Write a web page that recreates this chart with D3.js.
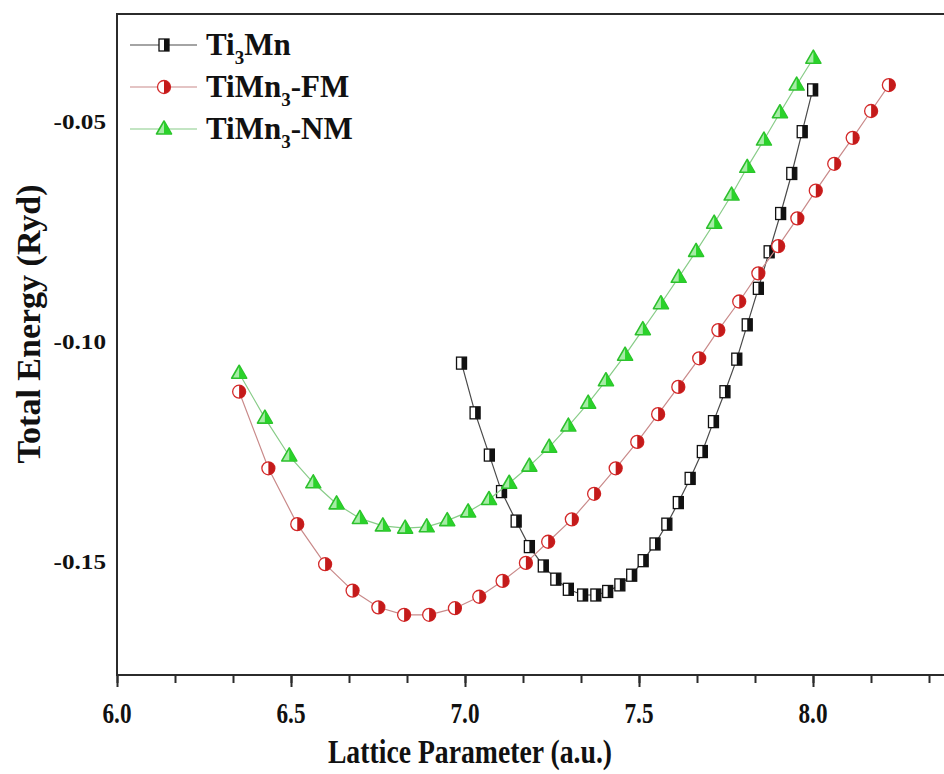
<!DOCTYPE html>
<html>
<head>
<meta charset="utf-8">
<script src="https://cdn.jsdelivr.net/npm/d3@7"></script>
<style>
  html, body { margin: 0; padding: 0; background: #fff; overflow: hidden; }
  svg { display: block; }
  text { font-family: "Liberation Serif", "Times New Roman", serif; font-weight: bold; fill: #111; }
</style>
</head>
<body>
<div id="chart"></div>
<script>
// ---- Data ----
const ti3mnA = [6.990, 7.029, 7.070, 7.105, 7.147, 7.185, 7.225, 7.261, 7.297, 7.338,
                7.376, 7.410, 7.445, 7.479, 7.512, 7.546, 7.580, 7.613, 7.647, 7.682,
                7.714, 7.747, 7.781, 7.811, 7.843, 7.874, 7.907, 7.939, 7.969, 7.999];
const ti3mnE = [-0.1048, -0.1161, -0.1257, -0.1340, -0.1407, -0.1465, -0.1509, -0.1539, -0.1562, -0.1575,
                -0.1575, -0.1567, -0.1552, -0.1530, -0.1497, -0.1459, -0.1414, -0.1365, -0.1310, -0.1249,
                -0.1181, -0.1113, -0.1039, -0.0961, -0.0878, -0.0795, -0.0708, -0.0617, -0.0522, -0.0427];

const fmA = [6.351, 6.435, 6.518, 6.598, 6.677, 6.751, 6.825, 6.897, 6.971, 7.041,
             7.108, 7.175, 7.239, 7.307, 7.371, 7.433, 7.495, 7.555, 7.613, 7.673,
             7.728, 7.788, 7.843, 7.900, 7.955, 8.008, 8.061, 8.114, 8.167, 8.218];
const fmE = [-0.1113, -0.1287, -0.1414, -0.1505, -0.1565, -0.1603, -0.1620, -0.1620, -0.1605, -0.1579,
             -0.1543, -0.1502, -0.1454, -0.1403, -0.1345, -0.1287, -0.1227, -0.1164, -0.1102, -0.1037,
             -0.0973, -0.0908, -0.0844, -0.0782, -0.0719, -0.0656, -0.0595, -0.0536, -0.0475, -0.0416];

const nmA = [6.351, 6.425, 6.495, 6.564, 6.631, 6.698, 6.764, 6.828, 6.890, 6.949,
             7.009, 7.069, 7.127, 7.185, 7.242, 7.297, 7.354, 7.405, 7.460, 7.511,
             7.563, 7.614, 7.664, 7.716, 7.766, 7.811, 7.859, 7.905, 7.953, 8.001];
const nmE = [-0.1071, -0.1173, -0.1259, -0.1320, -0.1368, -0.1401, -0.1418, -0.1423, -0.1420, -0.1406,
             -0.1386, -0.1358, -0.1321, -0.1282, -0.1239, -0.1191, -0.1139, -0.1088, -0.1030, -0.0972,
             -0.0913, -0.0853, -0.0794, -0.0730, -0.0666, -0.0603, -0.0541, -0.0479, -0.0416, -0.0355];

const xTicks = [6.0, 6.5, 7.0, 7.5, 8.0];
const xTickLabels = ["6.0", "6.5", "7.0", "7.5", "8.0"];
const yTicks = [-0.05, -0.10, -0.15];
const yTickLabels = ["-0.05", "-0.10", "-0.15"];
const seriesNames = ["Ti3Mn", "TiMn3-FM", "TiMn3-NM"];

// ---- Layout ----
const W = 944, H = 774;
const m = { left: 117, top: 14, bottom: 675 };
const x = d3.scaleLinear().domain([6.0, 8.4]).range([m.left, m.left + 348 * 2.4]);
const y = d3.scaleLinear().domain([-0.15, -0.05]).range([562, 122]);

const svg = d3.select("#chart").append("svg").attr("width", W).attr("height", H);

// frame
const axisColor = "#2b2b2b";
svg.append("rect")
  .attr("x", x(6.0)).attr("y", m.top)
  .attr("width", x(8.4) - x(6.0)).attr("height", m.bottom - m.top)
  .attr("fill", "none").attr("stroke", axisColor).attr("stroke-width", 2);

// x axis ticks (major + minor) via d3 axis
const minorTicks = d3.range(0, 15).map(i => 6.0 + i / 6).filter(v => v <= 8.4 + 1e-9);
const xMinor = d3.axisBottom(x).tickValues(minorTicks).tickSize(8).tickFormat("");
const xMajor = d3.axisBottom(x).tickValues(xTicks).tickSize(12).tickFormat("");
[xMinor, xMajor].forEach(ax => {
  const g = svg.append("g").attr("transform", `translate(0,${m.bottom})`).call(ax);
  g.select(".domain").remove();
  g.selectAll("line").attr("stroke", axisColor).attr("stroke-width", 2);
});

// text helper with horizontal scaling
function label(txt, px, py, size, sx, anchor, rot) {
  return svg.append("text")
    .attr("transform", `translate(${px},${py})` + (rot ? ` rotate(${rot})` : "") + ` scale(${sx},1)`)
    .attr("font-size", size).attr("text-anchor", anchor).text(txt);
}

xTicks.forEach((v, i) => label(xTickLabels[i], x(v), 723, 29, 0.8, "middle"));
yTicks.forEach((v, i) => label(yTickLabels[i], 106, y(v) + 7, 21, 1.2, "end"));

label("Lattice Parameter (a.u.)", 470, 763, 33, 0.84, "middle");
label("Total Energy (Ryd)", 40, 324, 34, 1, "middle", -90);

// ---- Series ----
const series = [
  { name: seriesNames[0], a: ti3mnA, e: ti3mnE, line: "#4a4a4a", kind: "square" },
  { name: seriesNames[1], a: fmA, e: fmE, line: "#c98a8a", kind: "circle" },
  { name: seriesNames[2], a: nmA, e: nmE, line: "#88cc88", kind: "triangle" }
];

const lineGen = d3.line().x(d => x(d[0])).y(d => y(d[1]));

function drawMarker(g, kind) {
  if (kind === "square") {
    g.append("rect").attr("x", -5).attr("y", -6).attr("width", 10).attr("height", 12)
      .attr("fill", "#fff").attr("stroke", "#111").attr("stroke-width", 1.3);
    g.append("rect").attr("x", 0).attr("y", -6).attr("width", 5).attr("height", 12).attr("fill", "#111");
  } else if (kind === "circle") {
    const r = 6.5;
    g.append("circle").attr("r", r).attr("fill", "#fff").attr("stroke", "#d42a2a").attr("stroke-width", 1.3);
    g.append("path").attr("d", `M0,${-r} A${r},${r} 0 0 1 0,${r} Z`).attr("fill", "#c41a1a");
  } else {
    g.append("path").attr("d", "M0,-8 L7.5,5 L-7.5,5 Z")
      .attr("fill", "#a6eca6").attr("stroke", "#2cc02c").attr("stroke-width", 1.6).attr("stroke-linejoin", "round");
    g.append("path").attr("d", "M0,-8 L7.5,5 L0,5 Z").attr("fill", "#2ad22a");
  }
}

series.forEach(s => {
  const pts = s.a.map((v, i) => [v, s.e[i]]);
  svg.append("path").datum(pts).attr("d", lineGen)
    .attr("fill", "none").attr("stroke", s.line).attr("stroke-width", 1.2);
  svg.append("g").selectAll("g").data(pts).join("g")
    .attr("transform", d => `translate(${x(d[0])},${y(d[1])})`)
    .each(function () { drawMarker(d3.select(this), s.kind); });
});

// ---- Legend ----
const legY = [45, 87, 129];
series.forEach((s, i) => {
  const ly = legY[i];
  svg.append("line").attr("x1", 130).attr("x2", 197).attr("y1", ly).attr("y2", ly)
    .attr("stroke", s.line).attr("stroke-width", 1.2);
  const g = svg.append("g").attr("transform", `translate(164,${ly})`);
  drawMarker(g, s.kind);
  const t = svg.append("text").attr("x", 206).attr("y", ly + 10).attr("font-size", 31);
  const parts = s.name === "Ti3Mn" ? ["Ti", "3", "Mn"] : ["TiMn", "3", s.name.slice(5)];
  t.append("tspan").text(parts[0]);
  t.append("tspan").attr("font-size", 19).attr("dy", 9).text(parts[1]);
  t.append("tspan").attr("dy", -9).text(parts[2]);
});
</script>
</body>
</html>
